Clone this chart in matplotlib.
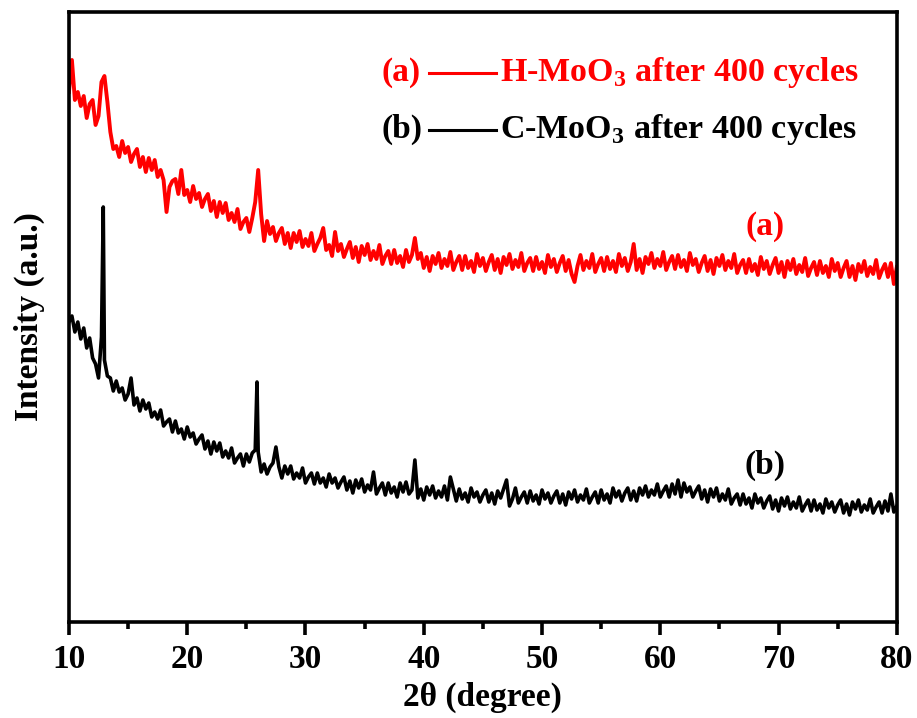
import numpy as np
import matplotlib
matplotlib.use('Agg')
import matplotlib.pyplot as plt

plt.rcParams['font.family'] = 'Liberation Serif'
plt.rcParams['font.weight'] = 'bold'
plt.rcParams['mathtext.fontset'] = 'custom'
plt.rcParams['mathtext.rm'] = 'Liberation Serif:bold'
plt.rcParams['mathtext.bf'] = 'Liberation Serif:bold'

# 2theta grid of the read-off values (0.25 degree steps, 10..80)
two_theta = np.arange(10, 80.001, 0.25)

# (a) H-MoO3 after 400 cycles, one row per degree
h_moo3 = [
    530, 562, 522, 530,
    516, 526, 504, 518,
    522, 497, 506, 540,
    546, 520, 490, 473,
    476, 465, 481, 469,
    475, 460, 468, 473,
    455, 465, 450, 464,
    452, 462, 445, 452,
    442, 410, 435, 441,
    443, 428, 452, 427,
    432, 420, 436, 423,
    429, 415, 423, 428,
    411, 421, 405, 420,
    409, 419, 402, 409,
    400, 413, 393, 400,
    404, 390, 404, 420,
    452, 408, 381, 401,
    388, 395, 381, 389,
    394, 378, 389, 374,
    389, 380, 391, 375,
    383, 376, 389, 371,
    378, 384, 394, 372,
    377, 366, 390, 371,
    378, 365, 373, 380,
    364, 375, 360, 376,
    367, 378, 362, 371,
    363, 377, 358, 366,
    371, 358, 372, 359,
    366, 355, 372, 360,
    367, 384, 363, 369,
    354, 365, 351, 366,
    358, 369, 354, 363,
    356, 370, 352, 360,
    366, 352, 366, 354,
    361, 350, 368, 356,
    364, 351, 360, 367,
    352, 363, 349, 365,
    357, 368, 353, 362,
    355, 369, 351, 359,
    364, 351, 365, 353,
    360, 349, 367, 355,
    363, 350, 359, 366,
    351, 362, 348, 340,
    356, 367, 352, 361,
    354, 368, 350, 358,
    364, 351, 365, 353,
    361, 350, 368, 356,
    364, 351, 360, 378,
    352, 363, 349, 365,
    358, 369, 354, 363,
    356, 370, 352, 360,
    366, 353, 367, 355,
    362, 351, 369, 357,
    363, 350, 359, 366,
    351, 362, 348, 364,
    356, 367, 352, 361,
    354, 368, 349, 357,
    362, 349, 363, 351,
    358, 347, 365, 353,
    361, 348, 357, 364,
    349, 360, 345, 361,
    352, 363, 348, 357,
    350, 364, 346, 354,
    360, 347, 361, 349,
    356, 345, 363, 351,
    359, 345, 354, 361,
    345, 356, 342, 358,
    350, 361, 346, 355,
    348, 362, 344, 352,
    358, 345, 359, 338,
    355,
]

# (b) C-MoO3 after 400 cycles, one row per degree
c_moo3 = [
    300, 306, 290, 300,
    283, 294, 274, 284,
    264, 258, 244, 285,
    262, 246, 244, 231,
    241, 230, 234, 222,
    228, 244, 217, 224,
    211, 222, 213, 219,
    205, 210, 203, 212,
    196, 200, 203, 190,
    201, 189, 193, 183,
    195, 185, 189, 178,
    183, 187, 173, 181,
    168, 180, 171, 179,
    165, 171, 164, 174,
    159, 164, 168, 156,
    168, 160, 169, 172,
    170, 150, 158, 148,
    155, 159, 175, 155,
    144, 156, 148, 156,
    143, 149, 144, 154,
    139, 145, 149, 138,
    149, 139, 144, 135,
    148, 139, 144, 134,
    140, 145, 132, 141,
    129, 142, 134, 143,
    130, 137, 132, 150,
    128, 134, 139, 127,
    139, 129, 135, 125,
    139, 130, 140, 128,
    132, 162, 124, 133,
    122, 135, 127, 136,
    124, 131, 125, 136,
    122, 145, 133, 121,
    133, 123, 129, 120,
    134, 125, 130, 120,
    127, 132, 120, 129,
    118, 131, 124, 133,
    142, 116, 123, 134,
    119, 125, 130, 119,
    131, 121, 127, 118,
    132, 123, 129, 119,
    126, 131, 119, 128,
    117, 130, 123, 132,
    120, 127, 122, 133,
    119, 125, 130, 119,
    132, 122, 128, 119,
    134, 125, 131, 121,
    129, 134, 122, 131,
    121, 134, 127, 136,
    125, 132, 127, 138,
    125, 131, 136, 125,
    138, 128, 142, 125,
    139, 130, 135, 125,
    131, 136, 123, 132,
    120, 133, 125, 134,
    121, 128, 122, 133,
    118, 124, 128, 117,
    128, 118, 124, 114,
    128, 119, 124, 114,
    121, 126, 113, 122,
    111, 124, 116, 125,
    113, 120, 114, 125,
    111, 117, 122, 111,
    122, 112, 118, 109,
    123, 114, 120, 110,
    117, 122, 109, 118,
    107, 120, 113, 122,
    110, 117, 112, 123,
    109, 115, 120, 109,
    121, 111, 128, 110,
    116,
]

# narrow reflections that fall between grid points
c_peak_x = [12.9, 25.9]
c_peak_y = [415, 240]

labels = ['(a)', '(b)']
names = ['H-MoO$_3$ after 400 cycles', 'C-MoO$_3$ after 400 cycles']
colors = ['#ff0000', '#000000']


def main():
    x_c = np.concatenate([two_theta, c_peak_x])
    y_c = np.concatenate([c_moo3, c_peak_y])
    order = np.argsort(x_c)

    fig = plt.figure(figsize=(9.17, 7.18), dpi=100)
    ax = fig.add_axes([0.0752, 0.1337, 0.9028, 0.8496])

    ax.plot(two_theta, h_moo3, color=colors[0], lw=2.8)
    ax.plot(x_c[order], y_c[order], color=colors[1], lw=2.6)

    ax.set_xlim(10, 80)
    ax.set_ylim(0, 610)
    ax.set_yticks([])
    ax.set_xticks(range(10, 81, 10))
    ax.set_xticks(range(15, 80, 10), minor=True)
    ax.tick_params(axis='x', which='major', direction='out', length=9, width=2.6,
                   labelsize=24, pad=7)
    ax.tick_params(axis='x', which='minor', direction='out', length=5, width=2.6)
    for sp in ax.spines.values():
        sp.set_linewidth(2.6)

    ax.set_xlabel('2\u03b8 (degree)', fontsize=24, fontweight='bold', labelpad=5)
    ax.set_ylabel('Intensity (a.u.)', fontsize=24, fontweight='bold', labelpad=17)

    # curve tags
    ax.text(0.841, 0.649, labels[0], transform=ax.transAxes, color=colors[0],
            fontsize=24, fontweight='bold', ha='center', va='center')
    ax.text(0.841, 0.256, labels[1], transform=ax.transAxes, color=colors[1],
            fontsize=24, fontweight='bold', ha='center', va='center')

    # hand made legend: "(a) ---- name"
    for i, yy in enumerate([0.900, 0.807]):
        ax.text(0.378, yy, labels[i], transform=ax.transAxes, color=colors[i],
                fontsize=24, fontweight='bold', ha='left', va='center')
        ax.plot([0.435, 0.516], [yy, yy], transform=ax.transAxes,
                color=colors[i], lw=2.2)
        ax.text(0.521, yy, names[i], transform=ax.transAxes, color=colors[i],
                fontsize=24.5, fontweight='bold', ha='left', va='center')

    fig.savefig('out.png', dpi=100)


if __name__ == "__main__":
    main()
